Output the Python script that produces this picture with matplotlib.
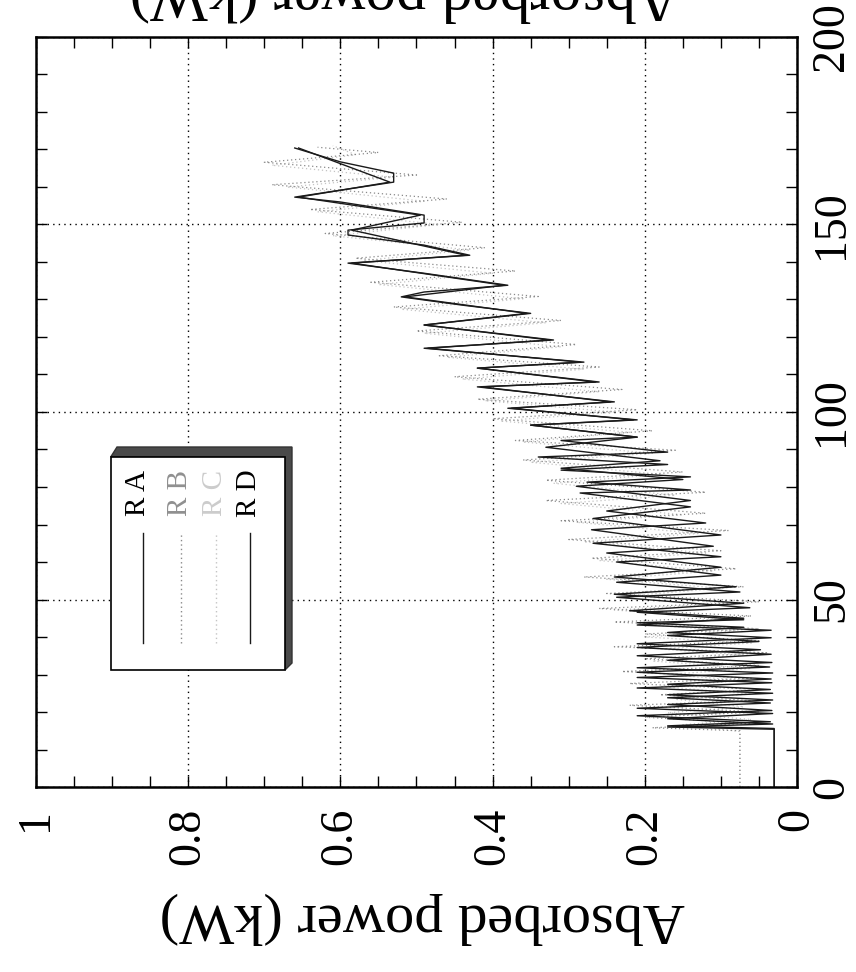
import matplotlib.pyplot as plt
from matplotlib.patches import Polygon, Rectangle
from matplotlib.ticker import MultipleLocator

# time axis (0..200) and absorbed power (kW)
RA_t = [0, 15.4, 16.0, 16.8, 18.2, 19.6, 21.0, 22.4, 23.8, 25.0, 26.4, 27.8, 29.2, 30.4,
        31.8, 33.2, 35.0, 36.6, 38.2, 39.8, 41.2, 42.6, 43.8, 44.6, 46.6, 47.8, 50.6, 52.0,
        54.6, 56.5, 60.0, 61.4, 65.0, 67.2, 71.6, 74.7, 78.4, 79.2, 81.3, 82.7, 84.5, 86.0,
        88.0, 89.3, 92.4, 93.3, 96.5, 97.9, 101.0, 102.7, 106.7, 108.0, 111.7, 113.3, 117.0,
        119.2, 123.2, 126.3, 128.5, 130.7, 132.0, 133.8, 137.0, 139.7, 141.8, 144.5, 147.2,
        148.5, 150.4, 152.5, 156.0, 157.3, 161.3, 163.7, 166.7, 170.4]
RA_p = [0.03, 0.03, 0.17, 0.032, 0.17, 0.032, 0.21, 0.035, 0.17, 0.032, 0.21, 0.033, 0.21, 0.032,
        0.21, 0.033, 0.21, 0.048, 0.21, 0.034, 0.17, 0.07, 0.21, 0.07, 0.21, 0.062, 0.237, 0.075,
        0.237, 0.10, 0.237, 0.10, 0.268, 0.10, 0.268, 0.14, 0.285, 0.14, 0.276, 0.14, 0.31, 0.17,
        0.34, 0.17, 0.31, 0.21, 0.35, 0.21, 0.38, 0.24, 0.42, 0.26, 0.42, 0.28, 0.49,
        0.32, 0.49, 0.35, 0.44, 0.52, 0.49, 0.38, 0.49, 0.59, 0.43, 0.49, 0.59,
        0.59, 0.49, 0.49, 0.60, 0.66, 0.53, 0.53, 0.60, 0.66]

RD_t = [0, 15.6, 16.3, 17.4, 19.0, 20.4, 22.0, 23.2, 24.6, 26.0, 27.4, 28.8, 30.6, 32.0,
        33.8, 35.4, 37.2, 38.8, 40.4, 41.8, 43.2, 45.0, 47.0, 49.0, 51.4, 53.4, 56.0, 58.6,
        62.4, 64.2, 68.6, 70.4, 73.6, 76.4, 80.2, 82.0, 85.0, 87.0, 90.6, 93.3, 96.5, 97.9,
        101.0, 102.7, 106.7, 108.0, 111.7, 113.3, 117.0, 119.2, 123.2, 126.3, 130.7, 133.8,
        139.7, 141.8, 148.5, 152.5, 157.3, 161.3, 170.4]
RD_p = [0.03, 0.03, 0.17, 0.035, 0.21, 0.033, 0.17, 0.032, 0.17, 0.035, 0.17, 0.034, 0.21, 0.036,
        0.17, 0.034, 0.21, 0.05, 0.17, 0.034, 0.21, 0.07, 0.22, 0.07, 0.24, 0.08, 0.24, 0.10,
        0.25, 0.11, 0.27, 0.12, 0.25, 0.14, 0.29, 0.15, 0.31, 0.18, 0.33, 0.21, 0.35, 0.215,
        0.375, 0.245, 0.415, 0.265, 0.42, 0.285, 0.485, 0.325, 0.49, 0.355, 0.515, 0.385,
        0.585, 0.435, 0.585, 0.495, 0.655, 0.535, 0.655]

RB_t = [0, 15.0, 15.8, 17.0, 18.6, 20.0, 21.8, 23.0, 24.6, 26.0, 27.6, 29.0, 30.8, 32.4,
        34.2, 35.8, 37.4, 39.0, 40.8, 42.2, 44.0, 45.6, 47.6, 49.4, 51.6, 53.4, 56.0, 58.2,
        61.0, 63.0, 66.0, 68.4, 71.0, 73.0, 76.4, 78.6, 81.8, 84.0, 87.2, 89.8, 92.4, 95.0,
        98.2, 100.6, 103.4, 106.0, 109.4, 112.0, 115.0, 118.0, 121.6, 124.4, 128.0, 130.8,
        134.6, 137.6, 141.0, 143.8, 147.6, 150.6, 154.0, 156.8, 160.6, 163.2, 166.6, 169.2, 170.6]
RB_p = [0.075, 0.075, 0.19, 0.06, 0.20, 0.05, 0.22, 0.06, 0.18, 0.05, 0.22, 0.06, 0.23, 0.05,
        0.20, 0.04, 0.24, 0.05, 0.20, 0.05, 0.24, 0.06, 0.26, 0.05, 0.25, 0.07, 0.28, 0.08,
        0.27, 0.10, 0.30, 0.09, 0.31, 0.12, 0.33, 0.12, 0.33, 0.15, 0.36, 0.16, 0.37, 0.19,
        0.40, 0.21, 0.42, 0.23, 0.45, 0.26, 0.47, 0.29, 0.50, 0.31, 0.53, 0.34,
        0.56, 0.37, 0.58, 0.41, 0.62, 0.44, 0.64, 0.46, 0.69, 0.50, 0.70, 0.55, 0.63]

RC_t = [0, 14.8, 16.6, 18.0, 19.8, 21.4, 23.4, 24.8, 26.8, 28.4, 30.0, 31.6, 33.6, 35.2,
        36.8, 38.4, 40.0, 41.6, 43.4, 45.0, 47.2, 49.0, 51.0, 53.0, 55.4, 57.6, 60.4, 62.4,
        65.4, 67.6, 70.6, 72.6, 75.6, 77.8, 81.0, 83.4, 86.6, 89.0, 92.0, 94.6, 97.6, 100.0,
        103.0, 105.4, 108.8, 111.4, 114.6, 117.4, 121.0, 123.8, 127.4, 130.2, 134.0, 137.0,
        140.4, 143.2, 147.0, 150.0, 153.4, 156.2, 160.0, 162.6, 165.8, 168.6, 171.0]
RC_p = [0.075, 0.075, 0.15, 0.06, 0.17, 0.07, 0.16, 0.06, 0.18, 0.07, 0.17, 0.06, 0.19, 0.07,
        0.18, 0.06, 0.20, 0.08, 0.21, 0.09, 0.24, 0.09, 0.22, 0.10, 0.25, 0.11, 0.26, 0.12,
        0.28, 0.13, 0.29, 0.15, 0.31, 0.16, 0.32, 0.18, 0.35, 0.19, 0.36, 0.22, 0.39, 0.24,
        0.41, 0.26, 0.44, 0.28, 0.46, 0.31, 0.49, 0.33, 0.52, 0.36, 0.55, 0.40,
        0.57, 0.43, 0.61, 0.47, 0.63, 0.49, 0.67, 0.53, 0.69, 0.58, 0.61]

power_ticks = [0, 0.2, 0.4, 0.6, 0.8, 1]
power_labels = ["0", "0.2", "0.4", "0.6", "0.8", "1"]
time_ticks = [0, 50, 100, 150, 200]
time_labels = ["0", "50", "100", "150", "200"]

plt.rcParams['font.family'] = ['Liberation Serif', 'DejaVu Serif']

W, H = 856, 972
fig = plt.figure(figsize=(W / 100, H / 100), dpi=100)
# the page is turned a quarter: power runs right-to-left, time runs upward
ax = fig.add_axes([36 / W, 1 - 787 / H, 761 / W, 750 / H])


def px(x, y):
    # picture pixels -> axes fraction
    return ((x - 36) / 761, (787 - y) / 750)


dots = (0, (1.0, 2.2))
ax.plot(RC_p, RC_t, color='#c4c4c4', lw=0.9, linestyle=dots)
ax.plot(RB_p, RB_t, color='#8a8a8a', lw=0.9, linestyle=dots)
ax.plot(RD_p, RD_t, color='#1a1a1a', lw=1.0)
ax.plot(RA_p, RA_t, color='#1a1a1a', lw=1.0)

ax.set_xlim(1, 0)
ax.set_ylim(0, 200)
ax.set_xticks(power_ticks)
ax.set_xticklabels(power_labels)
ax.set_yticks(time_ticks)
ax.set_yticklabels(time_labels)
ax.xaxis.set_minor_locator(MultipleLocator(0.05))
ax.yaxis.set_minor_locator(MultipleLocator(10))

ax.tick_params(which='both', direction='in', top=True, bottom=True, left=True, right=True,
               length=8, width=1, color='black')
ax.tick_params(axis='x', labelrotation=90, labelsize=33, pad=15)
ax.tick_params(axis='y', labelleft=False, labelright=True, labelrotation=90,
               labelsize=33, pad=10)
for lab in ax.get_yticklabels():
    lab.set_va('center')

ax.grid(True, which='major', color='black', linestyle=(0, (1, 3)), lw=1)
for s in ax.spines.values():
    s.set_linewidth(1.8)

fig.text(422 / W, 1 - 918 / H, 'Absorbed power (kW)', rotation=180,
         ha='center', va='center', fontsize=42)
# label of the neighbouring figure, cut by the page edge as in the scan
fig.text(405 / W, 1 + 6 / H, 'Absorbed power (kW)', rotation=180,
         ha='center', va='center', fontsize=44)

# legend box with 3D shadow
shadow = [px(110.7, 457), px(117, 447), px(292, 447), px(292, 663), px(285, 670), px(285, 457)]
ax.add_patch(Polygon(shadow, closed=True, facecolor='#4a4a4a', edgecolor='#333333',
                     transform=ax.transAxes, clip_on=False, zorder=5))
x0, y0 = px(110.7, 670)
x1, y1 = px(285, 457)
ax.add_patch(Rectangle((x0, y0), x1 - x0, y1 - y0, facecolor='white', edgecolor='black',
                       lw=1.2, transform=ax.transAxes, clip_on=False, zorder=6))

entries = [("R A", 143, 138, '#1a1a1a', 'black', '-'),
           ("R B", 181, 180, '#8a8a8a', '#909090', dots),
           ("R C", 216, 215, '#c4c4c4', '#cccccc', dots),
           ("R D", 250, 249, '#1a1a1a', 'black', '-')]
for name, lx, tx, lc, tc, ls in entries:
    xa, ya = px(lx, 643)
    xb, yb = px(lx, 533)
    ax.plot([xa, xb], [ya, yb], color=lc, lw=1.0, linestyle=ls,
            transform=ax.transAxes, clip_on=False, zorder=7)
    tx_, ty_ = px(tx, 493)
    ax.text(tx_, ty_, name, rotation=90, ha='center', va='center', fontsize=21,
            color=tc, transform=ax.transAxes, zorder=7)

fig.savefig('out.png', dpi=100)
